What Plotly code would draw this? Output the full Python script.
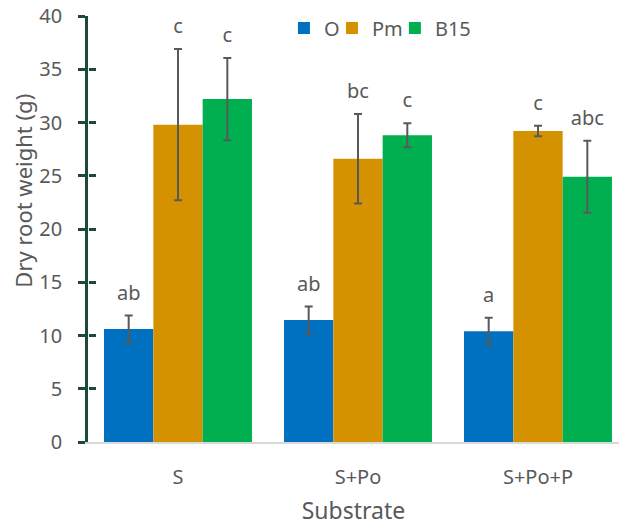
import plotly.graph_objects as go

categories = ["S", "S+Po", "S+Po+P"]
series_names = ["O", "Pm", "B15"]
values_O = [10.6, 11.45, 10.4]
values_Pm = [29.8, 26.6, 29.2]
values_B15 = [32.2, 28.8, 24.9]
err_O = [1.27, 1.27, 1.27]
err_Pm = [7.1, 4.2, 0.5]
err_B15 = [3.86, 1.13, 3.38]
letters_O = ["ab", "ab", "a"]
letters_Pm = ["c", "bc", "c"]
letters_B15 = ["c", "c", "abc"]
y_ticks = [0, 5, 10, 15, 20, 25, 30, 35, 40]

colors = ["#0070C0", "#D59200", "#00B050"]
legend_ids = ["legend", "legend2", "legend3"]
legend_x = [0.369, 0.4595, 0.578]
text_color = "#595959"
axis_color = "#1B4A36"
font_family = "Noto Sans, Lato, sans-serif"

fig = go.Figure()
all_vals = [values_O, values_Pm, values_B15]
all_errs = [err_O, err_Pm, err_B15]
all_letters = [letters_O, letters_Pm, letters_B15]

for name, vals, errs, col, lg in zip(series_names, all_vals, all_errs, colors, legend_ids):
    fig.add_trace(go.Bar(
        x=categories, y=vals, name=name, offsetgroup=name, legend=lg,
        marker=dict(color=col, line=dict(width=0)),
        error_y=dict(type="data", array=errs, visible=True,
                     color="#595959", thickness=2, width=4),
    ))

for name, vals, errs, lets in zip(series_names, all_vals, all_errs, all_letters):
    fig.add_trace(go.Scatter(
        x=categories, y=[v + e for v, e in zip(vals, errs)],
        mode="markers+text", text=lets, textposition="top center",
        marker=dict(size=16, opacity=0),
        textfont=dict(size=20, color=text_color, family=font_family),
        offsetgroup=name, showlegend=False, hoverinfo="skip", cliponaxis=False,
    ))

legend_style = dict(orientation="h", y=0.972, xanchor="left", yanchor="middle",
                    font=dict(size=20, color=text_color, family=font_family),
                    itemwidth=30, bgcolor="rgba(0,0,0,0)")

fig.update_layout(
    width=619, height=529,
    margin=dict(l=88, r=0, t=16, b=87),
    barmode="group", bargap=0.178, bargroupgap=0,
    scattermode="group", scattergap=0.178,
    plot_bgcolor="white", paper_bgcolor="white",
    font=dict(family=font_family, color=text_color, size=20),
    legend=dict(x=legend_x[0], **legend_style),
    legend2=dict(x=legend_x[1], **legend_style),
    legend3=dict(x=legend_x[2], **legend_style),
    showlegend=True,
)
fig.update_xaxes(
    range=[-0.5, 2.45], showline=True, linecolor="#D9D9D9", linewidth=1.5,
    ticks="", ticklabelstandoff=16, tickfont=dict(size=20, color=text_color),
    title=dict(text="Substrate", font=dict(size=23, color=text_color), standoff=14),
)
fig.update_yaxes(
    range=[0, 40], tickvals=y_ticks, showline=True, linecolor=axis_color, linewidth=2.5,
    ticks="outside", ticklen=7, tickwidth=2.5, tickcolor=axis_color,
    showgrid=False, zeroline=False, ticklabelstandoff=12,
    tickfont=dict(size=20, color=text_color),
)
fig.update_layout(yaxis2=dict(
    overlaying="y", anchor="free", position=0, side="left", range=[0, 40],
    tickvals=y_ticks, ticks="inside", ticklen=7, tickwidth=2.5, tickcolor=axis_color,
    showticklabels=False, showgrid=False, zeroline=False, showline=False,
))
fig.add_trace(go.Scatter(x=[None], y=[None], yaxis="y2", showlegend=False, hoverinfo="skip"))

fig.add_annotation(
    text="Dry root weight (g)", textangle=-90, showarrow=False,
    xref="paper", yref="paper", x=0, y=0.59, xshift=-65,
    xanchor="center", yanchor="middle",
    font=dict(size=22, color=text_color, family=font_family),
)

fig.write_html("out.html")
